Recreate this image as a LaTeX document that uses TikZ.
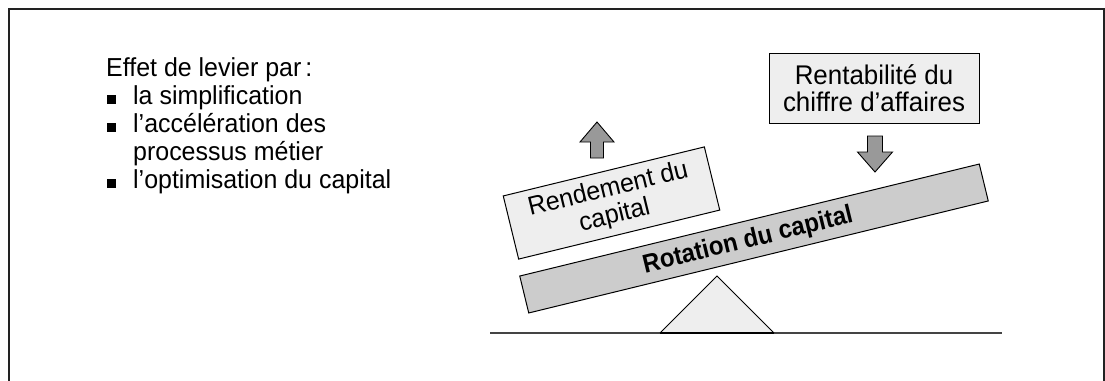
\documentclass[tikz,border=0pt]{standalone}
\usepackage{fontspec}
\setmainfont{Liberation Sans}[FakeStretch=0.96]
\newfontfamily\beamfont{Liberation Sans}[FakeStretch=0.92]
\definecolor{boxfill}{HTML}{EEEEEE}
\definecolor{beamfill}{HTML}{CCCCCC}
\definecolor{arrowfill}{HTML}{999999}
\definecolor{framecol}{HTML}{222222}
\definecolor{groundcol}{HTML}{444444}
\begin{document}
\begin{tikzpicture}[x=1pt,y=-1pt,
  txt/.style={font=\fontsize{26}{28}\selectfont, inner sep=0pt},
  bulletsq/.style={fill=black, minimum size=8.5pt, inner sep=0pt},
  lightbox/.style={draw=black, line width=1pt, fill=boxfill, align=center, inner sep=0pt},
  bigarrow/.style={draw=black, line width=0.9pt, fill=arrowfill, line join=miter}
]
\useasboundingbox (0,0) rectangle (1105,380);
% frame
\draw[framecol, line width=2pt] (8.5,381) -- (8.5,9) -- (1103.5,9) -- (1103.5,381);

% left text
\node[txt, anchor=base west] (title) at (106,76) {Effet de levier par\hspace{4pt}:};
\node[bulletsq, anchor=south west] (b1) at (107,104) {};
\node[txt, anchor=base west] (i1) at (133,104) {la simplification};
\node[bulletsq, anchor=south west] (b2) at (107,132) {};
\node[txt, anchor=base west, align=left] (i2) at (133,160) {l’accélération des\\processus métier};
\node[bulletsq, anchor=south west] (b3) at (107,188) {};
\node[txt, anchor=base west] (i3) at (133,188) {l’optimisation du capital};

% ground line and fulcrum
\coordinate (gl) at (490,333);
\coordinate (gr) at (1002,333);
\draw[groundcol, line width=1.6pt] (gl) -- (gr);
\coordinate (fl) at (660,333);
\coordinate (ft) at (717,276);
\coordinate (fr) at (774,333);
\filldraw[fill=boxfill, draw=black, line width=0.9pt] (fl) -- (ft) -- (fr);
\draw[black, line width=2pt] (fl) -- (fr);

% beam
\node[draw=black, line width=1pt, fill=beamfill, rotate=13.7,
  minimum width=473pt, minimum height=38pt, inner sep=0pt] (beam) at (754,238.5) {};
\node[rotate=13.7, inner sep=0pt, font=\beamfont\bfseries\fontsize{26}{28}\selectfont]
  (beamlabel) at (748,241) {Rotation du capital};

% Rendement box
\node[lightbox, rotate=13.7, minimum width=207pt, minimum height=65pt,
  font=\fontsize{26}{27}\selectfont] (rend) at (611.5,203)
  {Rendement du\\capital};

% Rentabilite box
\node[lightbox, minimum width=210pt, minimum height=70pt,
  font=\fontsize{27}{27}\selectfont] (rent) at (874,88)
  {Rentabilité du\\chiffre d’affaires};

% up arrow
\coordinate (ua) at (597,122);
\draw[bigarrow] (ua) -- ++(17,20) -- ++(-10.5,0) -- ++(0,16) -- ++(-13,0) -- ++(0,-16) -- ++(-10.5,0) -- cycle;

% down arrow
\coordinate (da) at (875,172);
\draw[bigarrow] (da) -- ++(17.5,-20) -- ++(-10,0) -- ++(0,-16) -- ++(-15,0) -- ++(0,16) -- ++(-10,0) -- cycle;
\end{tikzpicture}
\end{document}
